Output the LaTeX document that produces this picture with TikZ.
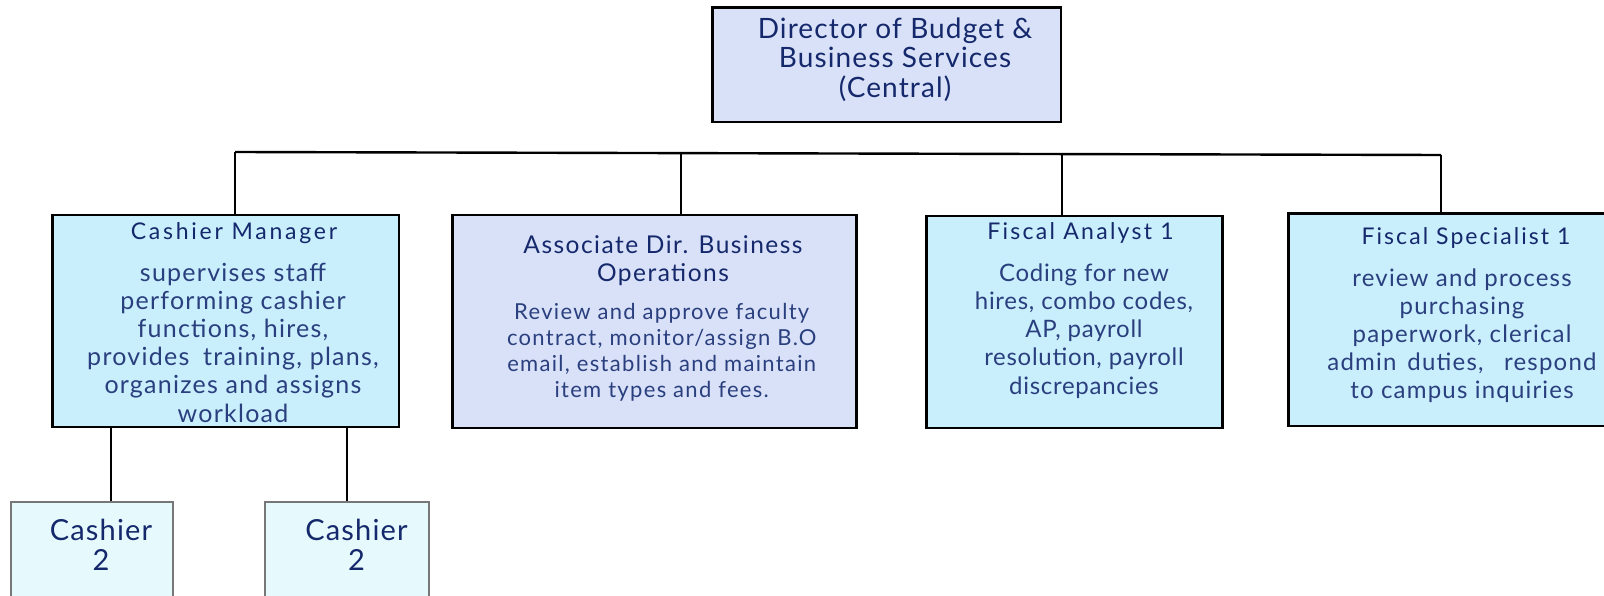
\documentclass[tikz,border=0pt]{standalone}
\usepackage{fontspec}
\setmainfont{Lato}
\newfontfamily\lsA[LetterSpace=3]{Lato}
\newfontfamily\lsB[LetterSpace=4]{Lato}
\newfontfamily\lsC[LetterSpace=5]{Lato}
\newfontfamily\lsD[LetterSpace=6]{Lato}
\newfontfamily\lsE[LetterSpace=9]{Lato}
\newfontfamily\lsF[LetterSpace=10]{Lato}
\newfontfamily\lsG[LetterSpace=12]{Lato}
\definecolor{lav}{HTML}{D9E1F8}
\definecolor{cyanfill}{HTML}{C9EEFC}
\definecolor{palecyan}{HTML}{E6FAFD}
\definecolor{navyT}{HTML}{14286B}
\definecolor{navyB}{HTML}{2A3F7E}
\definecolor{grayedge}{HTML}{777777}
\begin{document}
\begin{tikzpicture}[x=1pt,y=-1pt,
  box/.style={draw=black, line width=2.6pt, inner sep=0pt, rectangle},
  smallbox/.style={draw=grayedge, line width=1.5pt, inner sep=0pt, rectangle, fill=palecyan},
  conn/.style={draw=black, line width=2.4pt},
  txt/.style={anchor=base, align=center, inner sep=0pt, text=navyT},
  body/.style={anchor=base, align=center, inner sep=0pt, text=navyB}]
\useasboundingbox (0,0) rectangle (1604,596);
\fill[white] (0,0) rectangle (1604,596);

% boxes
\node[box, fill=lav, minimum width=348.3pt, minimum height=114.7pt] (dir) at (886.85,64.65) {};
\node[box, fill=cyanfill, minimum width=346.3pt, minimum height=212pt] (cm) at (225.85,321) {};
\node[box, fill=lav, minimum width=404pt, minimum height=213pt] (ad) at (654.7,321.5) {};
\node[box, fill=cyanfill, minimum width=296pt, minimum height=212pt] (fa) at (1074.7,322) {};
\node[box, fill=cyanfill, minimum width=330pt, minimum height=212.5pt] (fs) at (1453.5,319.75) {};
\node[smallbox, minimum width=162pt, minimum height=130pt] (c1) at (92,567) {};
\node[smallbox, minimum width=164pt, minimum height=130pt] (c2) at (347,567) {};

% connectors
\coordinate (jcm) at (235,152);
\coordinate (jad) at (681,153.1);
\coordinate (jfa) at (1061.7,154.1);
\coordinate (jfs) at (1441,155);
\draw[conn] (jcm) -- (jfs);
\draw[conn] (jcm) -- (jcm |- cm.north);
\draw[conn] (jad) -- (jad |- ad.north);
\draw[conn] (jfa) -- (jfa |- fa.north);
\draw[conn] (jfs) -- (jfs |- fs.north);
\coordinate (k1) at (111,0);
\coordinate (k2) at (347,0);
\draw[conn] (k1 |- cm.south) -- (k1 |- c1.north);
\draw[conn] (k2 |- cm.south) -- (k2 |- c2.north);

% texts (anchor base = baseline of the last line)
\node[txt, font=\lsB\fontsize{28}{29.5}\selectfont] (dirT) at (895,97.3) {Director of Budget \&\\Business Services\\(Central)};

\node[txt, font=\lsG\fontsize{23}{28}\selectfont] (cmT) at (234,239.3) {Cashier Manager};
\node[body, font=\lsC\fontsize{25}{28.2}\selectfont] (cmB) at (233,422) {supervises staff\\performing cashier\\functions, hires,\\provides\hspace{0.25em} training, plans,\\organizes and assigns\\workload};

\node[txt, font=\lsD\fontsize{24.5}{28.4}\selectfont] (adT) at (663,281.7) {Associate Dir. Business\\Operations};
\node[body, font=\lsD\fontsize{22}{26.3}\selectfont] (adB) at (661.7,397.9) {Review and approve faculty\\contract, monitor/assign B.O\\email, establish and maintain\\item types and fees.};

\node[txt, font=\lsF\fontsize{23}{28}\selectfont] (faT) at (1080.5,240) {Fiscal Analyst 1};
\node[body, font=\lsA\fontsize{24}{28.3}\selectfont] (faB) at (1084,394.2) {Coding for new\\hires, combo codes,\\AP, payroll\\resolution, payroll\\discrepancies};

\node[txt, font=\lsE\fontsize{23}{28}\selectfont] (fsT) at (1466,244) {Fiscal Specialist 1};
\node[body, font=\lsC\fontsize{24}{27.9}\selectfont] (fsB) at (1462,398.3) {review and process\\purchasing\\paperwork, clerical\\admin\hspace{0.15em} duties,\hspace{0.55em} respond\\to campus inquiries};

\node[txt, font=\lsB\fontsize{29}{30}\selectfont] (c1T) at (101,570) {Cashier\\2};
\node[txt, font=\lsB\fontsize{29}{30}\selectfont] (c2T) at (356.5,570) {Cashier\\2};
\end{tikzpicture}
\end{document}
